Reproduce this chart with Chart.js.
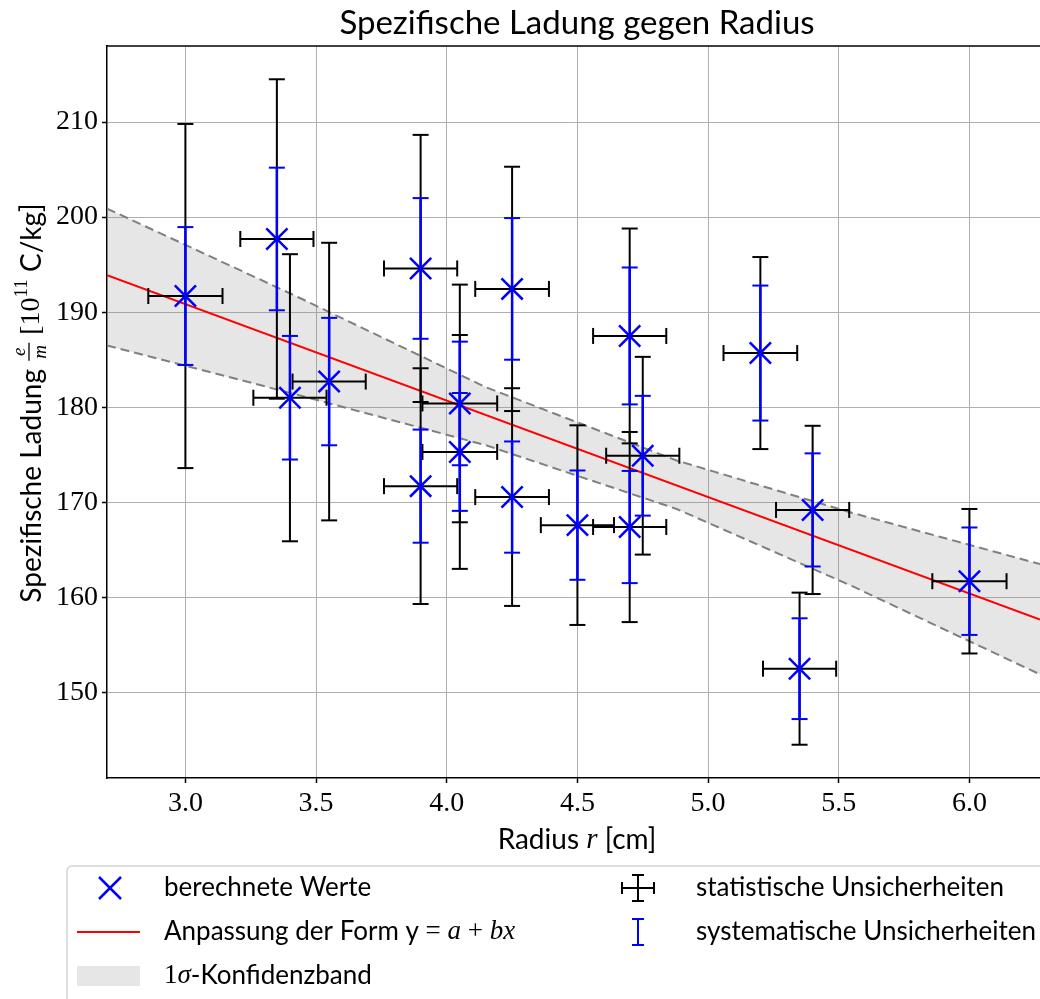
<!DOCTYPE html>
<html>
<head>
<meta charset="utf-8">
<script src="https://cdn.jsdelivr.net/npm/chart.js@4.4.1/dist/chart.umd.min.js"></script>
<style>
  html, body { margin: 0; background: #fff; }
  #wrap { width: 1040px; height: 999px; }
</style>
</head>
<body>
<div id="wrap"><canvas id="chart"></canvas></div>
<script>
// measured radius r [cm] and specific charge e/m [1e11 C/kg]
const radius    = [3.0, 3.35, 3.4, 3.55, 3.9, 3.9, 4.05, 4.05, 4.25, 4.25, 4.5, 4.7, 4.7, 4.75, 5.2, 5.35, 5.4, 6.0];
const radiusErr = [0.142, 0.14, 0.14, 0.14, 0.14, 0.14, 0.143, 0.143, 0.141, 0.141, 0.14, 0.14, 0.14, 0.14, 0.141, 0.14, 0.14, 0.142];
const charge    = [191.7, 197.7, 181.0, 182.7, 194.6, 171.7, 180.4, 175.3, 192.45, 170.55, 167.6, 187.5, 167.4, 174.9, 185.7, 152.5, 169.2, 161.7];
const statErr   = [18.1, 16.8, 15.1, 14.6, 14.05, 12.4, 12.5, 12.3, 12.85, 11.45, 10.5, 11.3, 10.0, 10.4, 10.1, 8.0, 8.85, 7.6];
const sysErr    = [7.25, 7.5, 6.5, 6.7, 7.4, 5.95, 6.5, 6.2, 7.45, 5.85, 5.75, 7.2, 5.9, 6.3, 7.1, 5.3, 5.95, 5.65];

// fit line y = a + bx (end points)
const fitX = [2.7, 6.27];
const fitY = [193.9, 157.66];

// 1 sigma band
const bandX     = [2.7, 3.43, 4.15, 4.88, 5.55, 6.27];
const bandUpper = [200.9, 191.6, 182.1, 174.4, 168.9, 163.5];
const bandLower = [186.5, 181.3, 176.0, 169.3, 161.2, 151.9];

const SANS = 'Lato, "Open Sans", sans-serif';
const SERIF = '"Liberation Serif", "DejaVu Serif", serif';
const BLUE = "#0000ff";

const pts = (xs, ys) => xs.map((x, i) => ({ x, y: ys[i] }));

// draw a row of text pieces with different fonts
function drawRuns(ctx, runs, x, y, align) {
  let total = 0;
  runs.forEach((r) => {
    if (r.w == null) { ctx.font = r.font; r.w = ctx.measureText(r.t).width; }
    total += r.w;
  });
  let cx = align === "center" ? x - total / 2 : x;
  runs.forEach((r) => {
    if (r.draw) r.draw(ctx, cx, y);
    else { ctx.font = r.font; ctx.fillText(r.t, cx, y + (r.dy || 0)); }
    cx += r.w;
  });
}

function capLine(ctx, x1, y1, x2, y2) {
  ctx.beginPath(); ctx.moveTo(x1, y1); ctx.lineTo(x2, y2); ctx.stroke();
}

const errorBars = {
  id: "errorBars",
  beforeDatasetDraw(chart, args) {
    if (args.index !== 0) return;
    const { ctx, chartArea: a, scales: { x, y } } = chart;
    ctx.save();
    ctx.beginPath(); ctx.rect(a.left, a.top, a.right - a.left, a.bottom - a.top); ctx.clip();
    const cap = 8;
    // statistical: black, x and y
    ctx.strokeStyle = "#000"; ctx.lineWidth = 2;
    radius.forEach((r, i) => {
      const px = x.getPixelForValue(r), py = y.getPixelForValue(charge[i]);
      const top = y.getPixelForValue(charge[i] + statErr[i]), bot = y.getPixelForValue(charge[i] - statErr[i]);
      const l = x.getPixelForValue(r - radiusErr[i]), rr = x.getPixelForValue(r + radiusErr[i]);
      capLine(ctx, px, top, px, bot);
      capLine(ctx, l, py, rr, py);
      capLine(ctx, px - cap, top, px + cap, top);
      capLine(ctx, px - cap, bot, px + cap, bot);
      capLine(ctx, l, py - cap, l, py + cap);
      capLine(ctx, rr, py - cap, rr, py + cap);
    });
    // systematic: blue, y only
    ctx.strokeStyle = BLUE;
    radius.forEach((r, i) => {
      const px = x.getPixelForValue(r);
      const top = y.getPixelForValue(charge[i] + sysErr[i]), bot = y.getPixelForValue(charge[i] - sysErr[i]);
      ctx.lineWidth = 2.5;
      capLine(ctx, px, top, px, bot);
      ctx.lineWidth = 2;
      capLine(ctx, px - cap, top, px + cap, top);
      capLine(ctx, px - cap, bot, px + cap, bot);
    });
    ctx.restore();
  },
};

const decorations = {
  id: "decorations",
  afterDraw(chart) {
    const { ctx, chartArea: a } = chart;
    ctx.save();
    // top spine
    ctx.strokeStyle = "#000"; ctx.lineWidth = 1.5;
    capLine(ctx, a.left - 0.75, a.top, a.right, a.top);

    ctx.fillStyle = "#000";
    ctx.textBaseline = "middle";
    const midX = 577;

    // title
    drawRuns(ctx, [{ t: "Spezifische Ladung gegen Radius", font: `33px ${SANS}` }], midX, 23, "center");

    // x axis title
    drawRuns(ctx, [
      { t: "Radius ", font: `28px ${SANS}` },
      { t: "r", font: `italic 29px ${SERIF}` },
      { t: " [cm]", font: `28px ${SANS}` },
    ], midX, 840, "center");

    // y axis title (rotated)
    ctx.save();
    ctx.translate(32, 403);
    ctx.rotate(-Math.PI / 2);
    const frac = {
      w: 20,
      draw(c, x0, y0) {
        c.font = `italic 19px ${SERIF}`;
        c.textAlign = "center";
        c.fillText("e", x0 + 10, y0 - 12);
        c.fillText("m", x0 + 10, y0 + 9);
        c.textAlign = "left";
        c.lineWidth = 1.3; c.strokeStyle = "#000";
        capLine(c, x0 + 1, y0 - 3, x0 + 19, y0 - 3);
      },
    };
    drawRuns(ctx, [
      { t: "Spezifische Ladung ", font: `28px ${SANS}` },
      frac,
      { t: " [10", font: `28px ${SERIF}` },
      { t: "11", font: `19px ${SERIF}`, dy: -10 },
      { t: " C/kg]", font: `28px ${SANS}` },
    ], 0, 0, "center");
    ctx.restore();

    // legend
    ctx.fillStyle = "rgba(255,255,255,0.8)";
    ctx.strokeStyle = "#d4d4d4"; ctx.lineWidth = 1.5;
    ctx.beginPath(); ctx.roundRect(67, 866, 1000, 150, 5); ctx.fill(); ctx.stroke();

    const rows = [888, 932, 976];
    // blue X marker
    ctx.strokeStyle = BLUE; ctx.lineWidth = 2.5;
    capLine(ctx, 99, rows[0] - 11, 121, rows[0] + 11);
    capLine(ctx, 99, rows[0] + 11, 121, rows[0] - 11);
    // red line
    ctx.strokeStyle = "#ff0000"; ctx.lineWidth = 2;
    capLine(ctx, 77, rows[1], 140, rows[1]);
    // band patch
    ctx.fillStyle = "rgba(128,128,128,0.2)";
    ctx.fillRect(77, rows[2] - 10, 63, 20);
    // black error cross
    ctx.strokeStyle = "#000"; ctx.lineWidth = 2;
    const ex = 638;
    capLine(ctx, ex, rows[0] - 13, ex, rows[0] + 13);
    capLine(ctx, ex - 6, rows[0] - 13, ex + 6, rows[0] - 13);
    capLine(ctx, ex - 6, rows[0] + 13, ex + 6, rows[0] + 13);
    capLine(ctx, ex - 16, rows[0], ex + 16, rows[0]);
    capLine(ctx, ex - 16, rows[0] - 6, ex - 16, rows[0] + 6);
    capLine(ctx, ex + 16, rows[0] - 6, ex + 16, rows[0] + 6);
    // blue error bar
    ctx.strokeStyle = BLUE;
    capLine(ctx, ex, rows[1] - 13, ex, rows[1] + 13);
    capLine(ctx, ex - 6, rows[1] - 13, ex + 6, rows[1] - 13);
    capLine(ctx, ex - 6, rows[1] + 13, ex + 6, rows[1] + 13);

    ctx.fillStyle = "#000";
    const lf = `26px ${SANS}`, mf = `italic 27px ${SERIF}`, uf = `27px ${SERIF}`;
    drawRuns(ctx, [{ t: "berechnete Werte", font: lf }], 164, rows[0], "left");
    drawRuns(ctx, [
      { t: "Anpassung der Form y ", font: lf },
      { t: "= ", font: uf },
      { t: "a", font: mf },
      { t: " + ", font: uf },
      { t: "bx", font: mf },
    ], 164, rows[1], "left");
    drawRuns(ctx, [
      { t: "1", font: uf },
      { t: "σ", font: mf },
      { t: "-Konfidenzband", font: lf },
    ], 164, rows[2], "left");
    drawRuns(ctx, [{ t: "statistische Unsicherheiten", font: lf }], 696, rows[0], "left");
    drawRuns(ctx, [{ t: "systematische Unsicherheiten", font: lf }], 696, rows[1], "left");
    ctx.restore();
  },
};

const axisCommon = {
  type: "linear",
  ticks: { color: "#000", font: { family: SERIF, size: 28 }, padding: 4, includeBounds: false, maxRotation: 0 },
  grid: { color: "#b0b0b0", lineWidth: 1, tickLength: 5, tickColor: "#000", tickWidth: 1.5 },
  border: { color: "#000", width: 1.5 },
};

new Chart(document.getElementById("chart"), {
  type: "scatter",
  data: {
    datasets: [
      {
        label: "berechnete Werte", data: pts(radius, charge),
        pointStyle: "crossRot", pointRadius: 15, borderWidth: 2.5,
        borderColor: BLUE, backgroundColor: BLUE, order: 0,
      },
      {
        type: "line", label: "Anpassung", data: pts(fitX, fitY),
        borderColor: "#ff0000", borderWidth: 2, pointRadius: 0, fill: false, order: 1,
      },
      {
        type: "line", label: "upper", data: pts(bandX, bandUpper),
        borderColor: "#808080", borderWidth: 2, borderDash: [9, 5], pointRadius: 0,
        fill: "+1", backgroundColor: "rgba(128,128,128,0.2)", order: 2,
      },
      {
        type: "line", label: "lower", data: pts(bandX, bandLower),
        borderColor: "#808080", borderWidth: 2, borderDash: [9, 5], pointRadius: 0,
        fill: false, order: 3,
      },
    ],
  },
  options: {
    responsive: true, maintainAspectRatio: false, animation: false, events: [],
    layout: { autoPadding: false, padding: { top: 46, bottom: 139, left: 0, right: 0 } },
    plugins: {
      legend: { display: false }, tooltip: { enabled: false }, title: { display: false },
      filler: { drawTime: "beforeDatasetsDraw" },
    },
    scales: {
      x: {
        ...axisCommon, min: 2.7, max: 6.27,
        ticks: { ...axisCommon.ticks, stepSize: 0.5, callback: (v) => v.toFixed(1) },
        afterFit(s) { s.height = 82; s.paddingLeft = 0; s.paddingRight = 0; },
      },
      y: {
        ...axisCommon, min: 141, max: 218,
        ticks: { ...axisCommon.ticks, stepSize: 10 },
        afterFit(s) { s.width = 107; s.paddingTop = 0; s.paddingBottom = 0; },
      },
    },
  },
  plugins: [errorBars, decorations],
});
</script>
</body>
</html>
